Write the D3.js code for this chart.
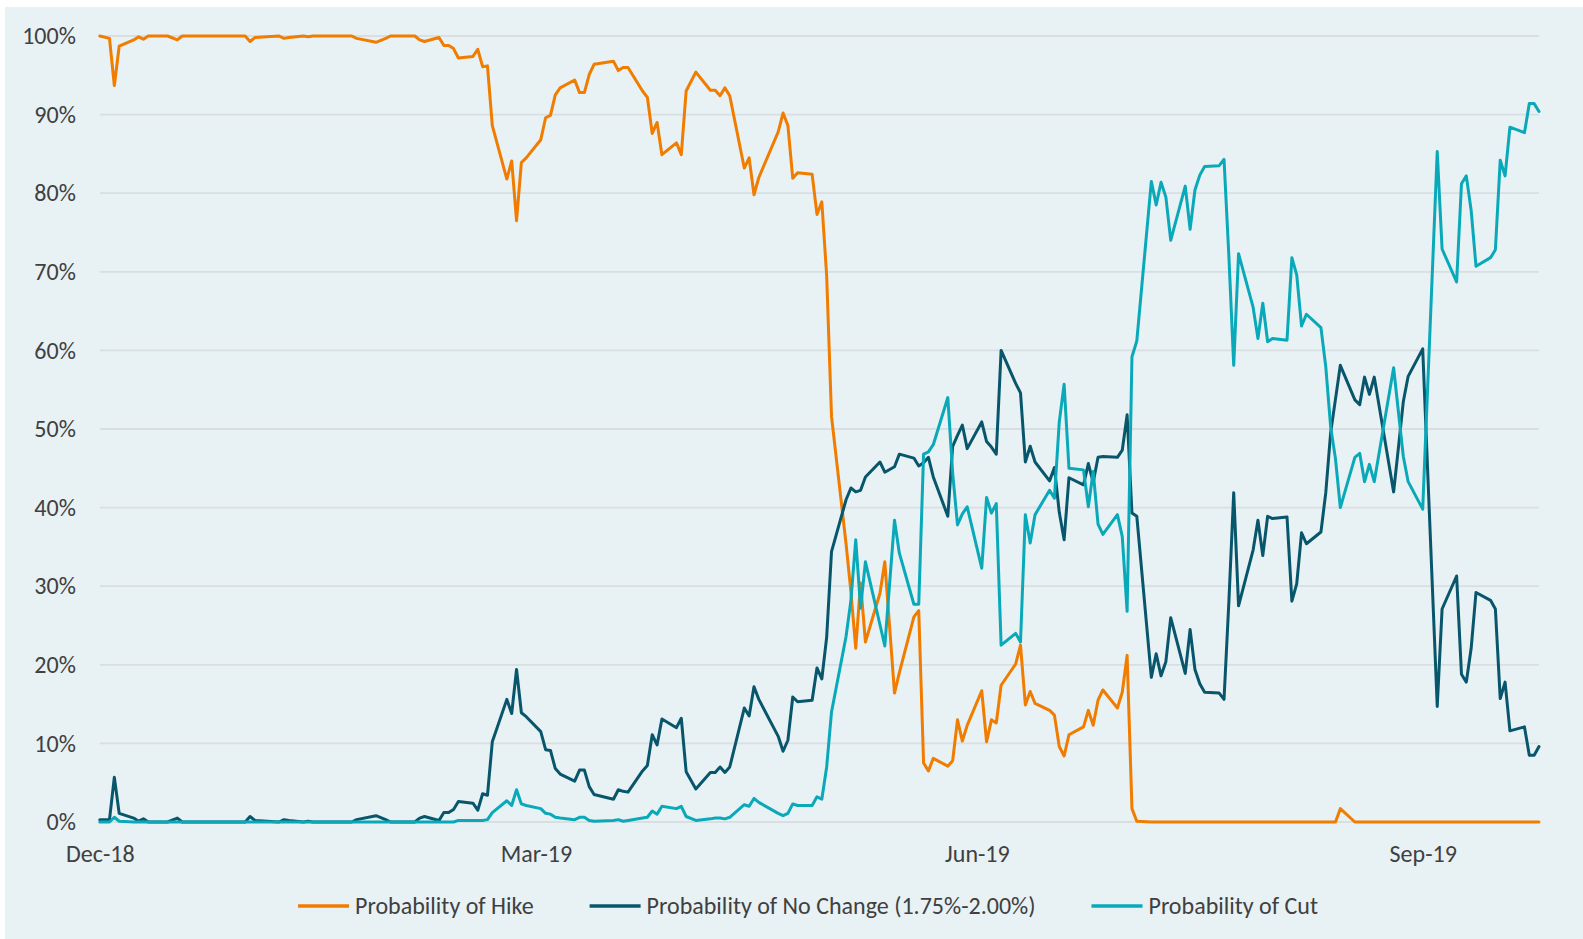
<!DOCTYPE html>
<html>
<head>
<meta charset="utf-8">
<script src="https://cdn.jsdelivr.net/npm/d3@7"></script>
<style>
  html, body { margin: 0; padding: 0; background: #ffffff; }
  svg { display: block; }
  text { font-family: Calibri, Carlito, Lato, sans-serif; fill: #404040; }
</style>
</head>
<body>
<div id="chart"></div>
<script>
// Trading days shown on the chart
const dates = [
  "2018-12-03","2018-12-05","2018-12-06","2018-12-07","2018-12-10","2018-12-11","2018-12-12","2018-12-13",
  "2018-12-17","2018-12-19","2018-12-20","2019-01-02","2019-01-03","2019-01-04","2019-01-09","2019-01-10",
  "2019-01-11","2019-01-14","2019-01-15","2019-01-16","2019-01-24","2019-01-25","2019-01-29","2019-01-31",
  "2019-02-01","2019-02-06","2019-02-07","2019-02-08","2019-02-11","2019-02-12","2019-02-13","2019-02-14",
  "2019-02-15","2019-02-18","2019-02-19","2019-02-20","2019-02-21","2019-02-22","2019-02-25","2019-02-26",
  "2019-02-27","2019-02-28","2019-03-01","2019-03-04","2019-03-05","2019-03-06","2019-03-07","2019-03-08",
  "2019-03-11","2019-03-12","2019-03-13","2019-03-14","2019-03-15","2019-03-19","2019-03-20","2019-03-21",
  "2019-03-22","2019-03-25","2019-03-26","2019-03-27","2019-03-28","2019-03-29","2019-04-01","2019-04-02",
  "2019-04-03","2019-04-05","2019-04-08","2019-04-09","2019-04-10","2019-04-11","2019-04-12","2019-04-15",
  "2019-04-16","2019-04-17","2019-04-18","2019-04-22","2019-04-23","2019-04-24","2019-04-25","2019-04-26",
  "2019-04-29","2019-04-30","2019-05-01","2019-05-02","2019-05-03","2019-05-06","2019-05-07","2019-05-08",
  "2019-05-09","2019-05-10","2019-05-13","2019-05-14","2019-05-16","2019-05-17","2019-05-20","2019-05-21",
  "2019-05-22","2019-05-23","2019-05-24","2019-05-27","2019-05-28","2019-05-29","2019-05-30","2019-05-31",
  "2019-06-03","2019-06-04","2019-06-05","2019-06-06","2019-06-07","2019-06-10","2019-06-11","2019-06-12",
  "2019-06-13","2019-06-14","2019-06-17","2019-06-18","2019-06-19","2019-06-20","2019-06-21","2019-06-24",
  "2019-06-25","2019-06-26","2019-06-27","2019-06-28","2019-07-01","2019-07-02","2019-07-03","2019-07-04",
  "2019-07-05","2019-07-08","2019-07-09","2019-07-10","2019-07-11","2019-07-12","2019-07-15","2019-07-16",
  "2019-07-17","2019-07-18","2019-07-19","2019-07-22","2019-07-23","2019-07-24","2019-07-25","2019-07-26",
  "2019-07-29","2019-07-30","2019-07-31","2019-08-01","2019-08-02","2019-08-05","2019-08-06","2019-08-07",
  "2019-08-08","2019-08-09","2019-08-12","2019-08-13","2019-08-14","2019-08-15","2019-08-16","2019-08-19",
  "2019-08-20","2019-08-21","2019-08-22","2019-08-23","2019-08-27","2019-08-28","2019-08-29","2019-08-30",
  "2019-09-02","2019-09-05","2019-09-06","2019-09-09","2019-09-10","2019-09-11","2019-09-12","2019-09-13",
  "2019-09-16","2019-09-17","2019-09-18","2019-09-19","2019-09-20","2019-09-23","2019-09-24","2019-09-25",
  "2019-09-26"
];

// Probability of Hike (%)
const hike = [
  100, 99.7, 93.7, 98.7, 99.5, 99.9, 99.6, 100,
  100, 99.5, 100, 100, 99.3, 99.8, 100, 99.7,
  99.8, 100, 99.9, 100, 100, 99.7, 99.2, 99.7,
  100, 100, 99.5, 99.3, 99.8, 98.8, 98.8, 98.4,
  97.2, 97.4, 98.3, 96.1, 96.2, 88.6, 81.8, 84.1,
  76.5, 83.9, 84.5, 86.8, 89.6, 89.9, 92.5, 93.4,
  94.4, 92.8, 92.8, 95.1, 96.4, 96.8, 95.6, 96.0,
  96.0, 93.0, 92.2, 87.6, 89.0, 84.9, 86.4, 84.9,
  93.0, 95.4, 93.1, 93.1, 92.4, 93.4, 92.4, 83.2,
  84.5, 79.8, 82.0, 87.8, 90.2, 88.6, 81.9, 82.6,
  82.4, 77.3, 78.9, 69.5, 51.6, 35.4, 29.3, 22.1,
  30.4, 22.9, 29.1, 33.1, 16.4, 19.0, 26.1, 26.9,
  7.5, 6.5, 8.1, 7.1, 7.8, 13.0, 10.3, 12.3,
  16.7, 10.2, 13.0, 12.6, 17.4, 20.1, 22.5, 14.9,
  16.6, 15.1, 14.2, 13.6, 9.6, 8.4, 11.1, 12.1,
  14.2, 12.3, 15.5, 16.8, 14.5, 16.5, 21.2, 1.7,
  0.1, 0, 0, 0, 0, 0, 0, 0,
  0, 0, 0, 0, 0, 0, 0, 0,
  0, 0, 0, 0, 0, 0, 0, 0,
  0, 0, 0, 0, 0, 0, 1.7, 0,
  0, 0, 0, 0, 0, 0, 0, 0,
  0, 0, 0, 0, 0, 0, 0, 0,
  0, 0, 0, 0, 0, 0, 0, 0,
  0
];

// Probability of No Change (1.75%-2.00%) (%)
const noChange = [
  0.3, 0.3, 5.7, 1.1, 0.5, 0.1, 0.4, 0,
  0, 0.5, 0, 0, 0.7, 0.2, 0, 0.3,
  0.2, 0, 0.1, 0, 0, 0.3, 0.8, 0.3,
  0, 0, 0.5, 0.7, 0.2, 1.2, 1.2, 1.6,
  2.6, 2.4, 1.5, 3.6, 3.4, 10.2, 15.6, 13.8,
  19.4, 13.9, 13.4, 11.5, 9.2, 9.1, 6.8, 6.1,
  5.2, 6.6, 6.6, 4.5, 3.5, 2.9, 4.1, 3.9,
  3.8, 6.5, 7.2, 11.1, 9.8, 13.1, 12.0, 13.2,
  6.4, 4.2, 6.3, 6.3, 7.0, 6.3, 7.0, 14.5,
  13.5, 17.2, 15.6, 10.9, 9.0, 10.4, 15.9, 15.3,
  15.5, 19.6, 18.2, 23.5, 34.4, 41.0, 42.5, 42.0,
  42.2, 43.9, 45.8, 44.5, 45.2, 46.8, 46.3, 45.3,
  45.7, 46.4, 43.9, 38.9, 47.8, 49.2, 50.5, 47.5,
  50.9, 48.4, 47.7, 46.8, 60.0, 55.8, 54.6, 45.8,
  47.8, 45.8, 43.4, 45.1, 39.4, 35.9, 43.8, 42.9,
  45.6, 43.2, 46.4, 46.5, 46.4, 47.3, 51.8, 39.3,
  38.9, 18.4, 21.4, 18.6, 20.4, 26.0, 18.9, 24.5,
  19.4, 17.6, 16.5, 16.4, 15.6, 28.0, 41.9, 27.5,
  34.6, 38.4, 33.9, 38.9, 38.6, 38.8, 28.1, 30.3,
  36.8, 35.4, 36.9, 41.9, 49.5, 53.8, 58.1, 53.7,
  53.1, 56.6, 54.4, 56.6, 42.0, 47.7, 53.5, 56.7,
  60.2, 14.7, 27.1, 31.3, 18.8, 17.8, 22.1, 29.2,
  28.2, 27.1, 15.7, 17.8, 11.6, 12.1, 8.5, 8.5,
  9.6
];

// Probability of Cut (%)
const cut = [
  0, 0, 0.6, 0.1, 0, 0, 0, 0,
  0, 0, 0, 0, 0, 0, 0, 0,
  0, 0, 0, 0, 0, 0, 0, 0,
  0, 0, 0, 0, 0, 0, 0, 0,
  0.2, 0.2, 0.2, 0.2, 0.3, 1.2, 2.7, 2.1,
  4.1, 2.3, 2.1, 1.7, 1.1, 1.0, 0.6, 0.5,
  0.3, 0.6, 0.6, 0.2, 0.1, 0.2, 0.3, 0.1,
  0.2, 0.5, 0.6, 1.4, 1.0, 2.0, 1.7, 2.0,
  0.7, 0.2, 0.4, 0.5, 0.5, 0.4, 0.6, 2.2,
  2.0, 3.0, 2.5, 1.1, 0.8, 1.1, 2.3, 2.1,
  2.1, 3.2, 2.9, 7.0, 14.0, 23.6, 28.2, 35.9,
  27.2, 33.1, 25.1, 22.4, 38.4, 34.2, 27.7, 27.7,
  46.8, 47.1, 48.0, 54.0, 44.4, 37.8, 39.2, 40.1,
  32.3, 41.3, 39.3, 40.5, 22.5, 24.0, 22.9, 39.1,
  35.5, 39.1, 42.2, 41.2, 50.9, 55.7, 45.0, 44.8,
  40.1, 44.6, 37.9, 36.6, 39.1, 36.3, 26.8, 59.2,
  61.2, 81.5, 78.5, 81.4, 79.5, 74.0, 80.9, 75.4,
  80.4, 82.3, 83.4, 83.5, 84.3, 72.0, 58.1, 72.3,
  65.5, 61.5, 66.0, 61.1, 61.5, 61.3, 71.8, 69.6,
  63.1, 64.6, 62.9, 57.9, 50.3, 46.2, 40.0, 46.4,
  46.9, 43.3, 45.5, 43.3, 57.8, 52.1, 46.5, 43.3,
  39.8, 85.3, 72.9, 68.7, 81.2, 82.2, 77.8, 70.7,
  71.8, 72.8, 84.2, 82.2, 88.4, 87.7, 91.4, 91.4,
  90.4
];

// Axis ticks and legend labels
const yTicks = [0, 10, 20, 30, 40, 50, 60, 70, 80, 90, 100];
const xTicks = ["2018-12-03", "2019-03-03", "2019-06-02", "2019-09-02"];
const seriesNames = ["Probability of Hike", "Probability of No Change (1.75%-2.00%)", "Probability of Cut"];
const seriesColors = ["#f07c00", "#08566b", "#0aa9b9"];

function drawChart() {
    const width = 1583;
    const height = 939;
    const plot = { left: 99.8, right: 1539, top: 36, bottom: 822 };
    const fontSize = 24;
    const parse = d3.timeParse("%Y-%m-%d");
    const days = dates.map(parse);

    const svg = d3.select("#chart")
        .append("svg")
        .attr("width", width)
        .attr("height", height);

    // Chart area background (thin white edge at top and left)
    svg.append("rect")
        .attr("x", 5)
        .attr("y", 7)
        .attr("width", width - 5)
        .attr("height", height - 7)
        .attr("fill", "#e8f1f4");

    const x = d3.scaleTime()
        .domain([days[0], days[days.length - 1]])
        .range([plot.left, plot.right]);

    const y = d3.scaleLinear()
        .domain([0, 100])
        .range([plot.bottom, plot.top]);

    // Horizontal gridlines
    svg.append("g")
        .selectAll("line")
        .data(yTicks)
        .enter()
        .append("line")
        .attr("x1", plot.left)
        .attr("x2", plot.right)
        .attr("y1", d => y(d))
        .attr("y2", d => y(d))
        .attr("stroke", "#d9dee2")
        .attr("stroke-width", 1.8);

    // Y axis labels
    const yAxis = svg.append("g")
        .attr("transform", `translate(${plot.left},0)`)
        .call(d3.axisLeft(y).tickValues(yTicks).tickFormat(d => d + "%").tickSize(0).tickPadding(24));
    yAxis.select(".domain").remove();
    yAxis.selectAll("text")
        .style("font-size", fontSize + "px")
        .attr("fill", "#404040");

    // X axis labels
    const xAxis = svg.append("g")
        .attr("transform", `translate(0,${plot.bottom})`)
        .call(d3.axisBottom(x).tickValues(xTicks.map(parse)).tickFormat(d3.timeFormat("%b-%y")).tickSize(0));
    xAxis.select(".domain").remove();
    xAxis.selectAll("text")
        .attr("y", 40)
        .attr("dy", 0)
        .style("font-size", fontSize + "px")
        .attr("fill", "#404040");

    // Lines, drawn in legend order so Cut sits on top
    const series = [hike, noChange, cut];
    const line = d3.line()
        .x((d, i) => x(days[i]))
        .y(d => y(d));

    series.forEach((values, k) => {
        svg.append("path")
            .datum(values)
            .attr("fill", "none")
            .attr("stroke", seriesColors[k])
            .attr("stroke-width", 3)
            .attr("stroke-linejoin", "round")
            .attr("stroke-linecap", "round")
            .attr("d", line);
    });

    // Legend, centred under the plot
    const legendY = 906;
    const swatch = 51;
    const gap = 6;
    const spacing = 56;
    const legend = svg.append("g");
    const items = legend.selectAll("g")
        .data(seriesNames)
        .enter()
        .append("g");

    items.append("text")
        .attr("x", swatch + gap)
        .attr("y", legendY)
        .attr("dy", "0.35em")
        .style("font-size", fontSize + "px")
        .attr("fill", "#404040")
        .text(d => d);

    let offset = 0;
    const widths = [];
    items.each(function () {
        widths.push(swatch + gap + this.querySelector("text").getComputedTextLength());
    });
    const total = d3.sum(widths) + spacing * (widths.length - 1);
    const start = 808 - total / 2;
    items.attr("transform", (d, i) => {
        const t = `translate(${start + offset},0)`;
        offset += widths[i] + spacing;
        return t;
    });

    items.append("line")
        .attr("x1", 0)
        .attr("x2", swatch)
        .attr("y1", legendY)
        .attr("y2", legendY)
        .attr("stroke", (d, i) => seriesColors[i])
        .attr("stroke-width", 3.5);
}

drawChart();
</script>
</body>
</html>
